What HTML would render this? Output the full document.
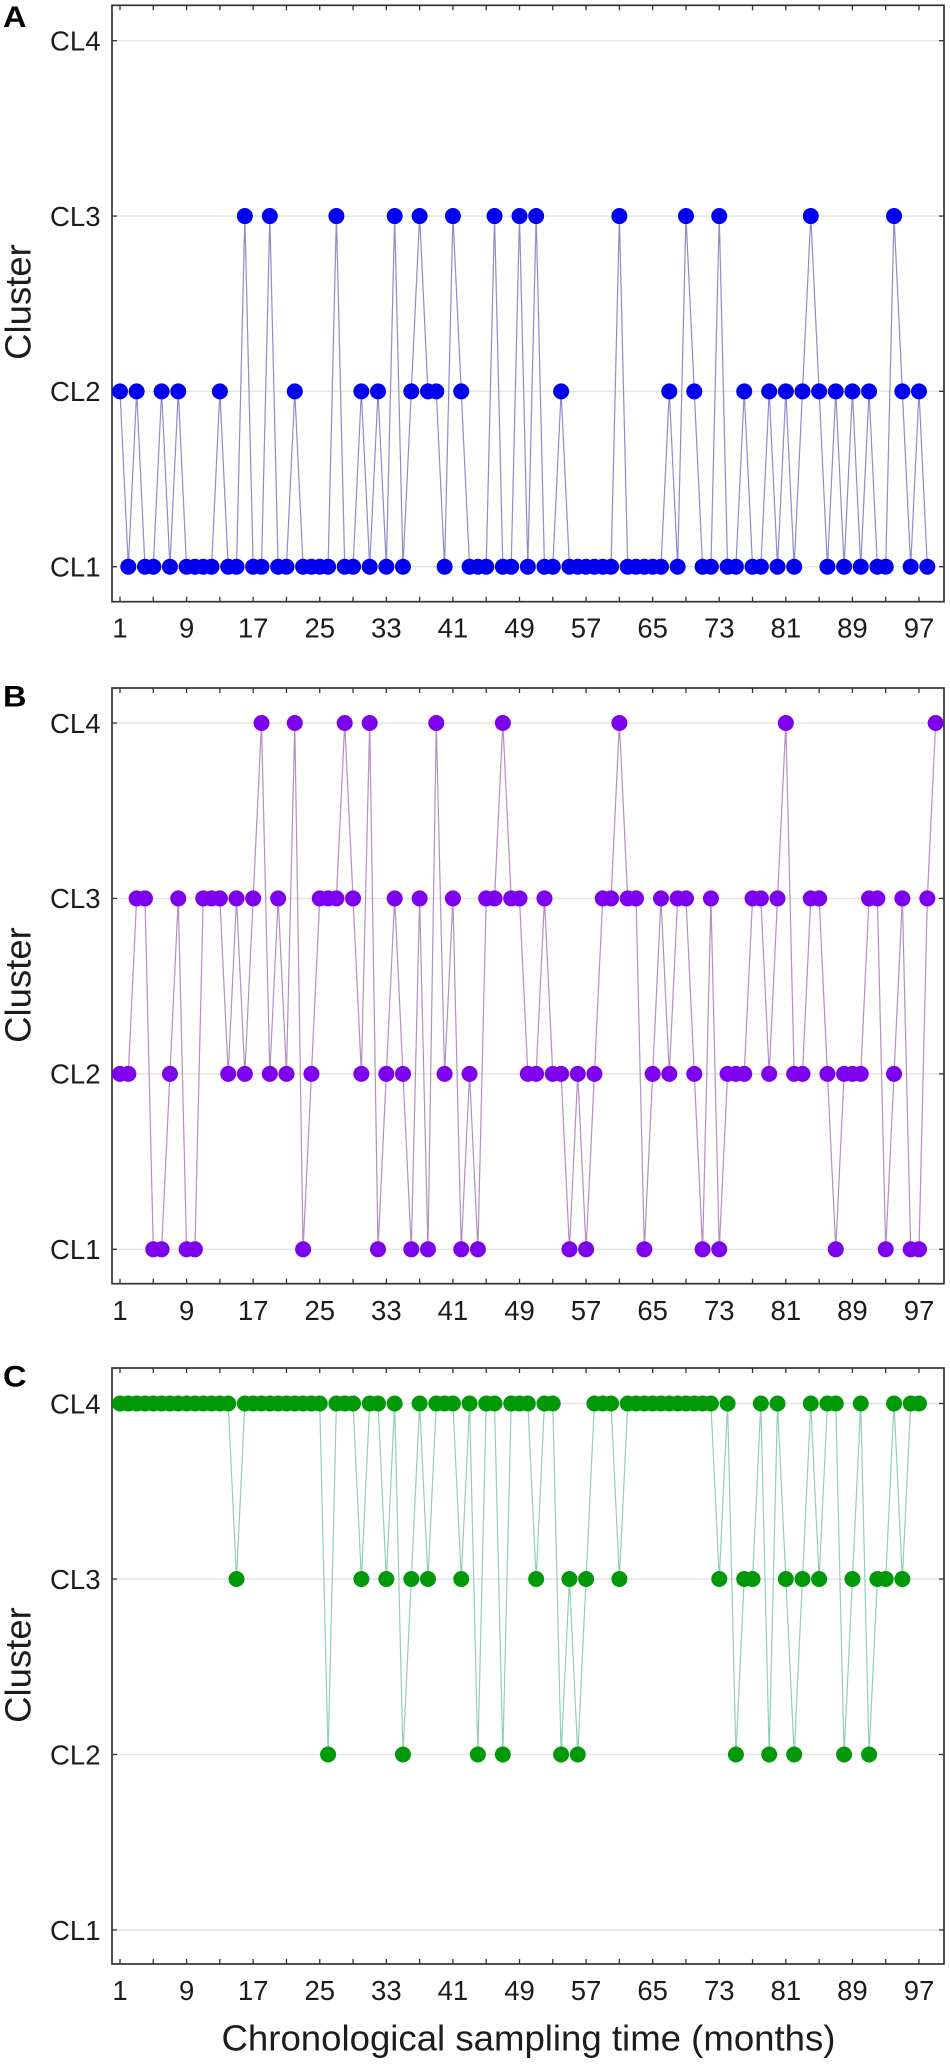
<!DOCTYPE html>
<html lang="en">
<head>
<meta charset="utf-8">
<title>Cluster membership over chronological sampling time</title>
<style>
html,body{margin:0;padding:0;background:#fff;}
svg{display:block;}
text{font-family:"Liberation Sans",Arial,sans-serif;fill:#1c1c1c;}
</style>
</head>
<body>
<svg id="figure" xmlns="http://www.w3.org/2000/svg" width="950" height="2064" viewBox="0 0 950 2064"></svg>
<script>
const clusterLabels = ["CL1","CL2","CL3","CL4"];
const xTickLabels = [1,9,17,25,33,41,49,57,65,73,81,89,97];
const xMinorTicks = [1,5,9,13,17,21,25,29,33,37,41,45,49,53,57,61,65,69,73,77,81,85,89,93,97];
const seriesA = [
2,1,2,1,1,2,1,2,1,1,
1,1,2,1,1,3,1,1,3,1,
1,2,1,1,1,1,3,1,1,2,
1,2,1,3,1,2,3,2,2,1,
3,2,1,1,1,3,1,1,3,1,
3,1,1,2,1,1,1,1,1,1,
3,1,1,1,1,1,2,1,3,2,
1,1,3,1,1,2,1,1,2,1,
2,1,2,3,2,1,2,1,2,1,
2,1,1,3,2,1,2,1];
const seriesB = [
2,2,3,3,1,1,2,3,1,1,
3,3,3,2,3,2,3,4,2,3,
2,4,1,2,3,3,3,4,3,2,
4,1,2,3,2,1,3,1,4,2,
3,1,2,1,3,3,4,3,3,2,
2,3,2,2,1,2,1,2,3,3,
4,3,3,1,2,3,2,3,3,2,
1,3,1,2,2,2,3,3,2,3,
4,2,2,3,3,2,1,2,2,2,
3,3,1,2,3,1,1,3,4];
const seriesC = [
4,4,4,4,4,4,4,4,4,4,
4,4,4,4,3,4,4,4,4,4,
4,4,4,4,4,2,4,4,4,3,
4,4,3,4,2,3,4,3,4,4,
4,3,4,2,4,4,2,4,4,4,
3,4,4,2,3,2,3,4,4,4,
3,4,4,4,4,4,4,4,4,4,
4,4,3,4,2,3,3,4,2,4,
3,2,3,4,3,4,4,2,3,4,
2,3,3,4,3,4,4];

const SVG_NS = "http://www.w3.org/2000/svg";
const figure = document.getElementById("figure");
const LEFT = 112, RIGHT = 944;
function xScale(month){ return 120 + (month - 1) * (919 - 120) / 96; }

function make(parent, tag, attrs){
  const node = document.createElementNS(SVG_NS, tag);
  for (const key in attrs) node.setAttribute(key, attrs[key]);
  parent.appendChild(node);
  return node;
}
function makeText(parent, str, x, y, size, anchor, rotate){
  const t = make(parent, "text", {
    "font-size": size,
    "text-anchor": anchor,
    transform: "translate(" + x + " " + y + ")" + (rotate ? " rotate(-90)" : "")
  });
  t.textContent = str;
  return t;
}

function drawPanel(cfg){
  const yScale = c => cfg.yCL1 + (c - 1) * (cfg.yCL4 - cfg.yCL1) / 3;
  const g = make(figure, "g", {});
  
  

  clusterLabels.forEach((lab, i) => {
    const y = yScale(i + 1);
    const grid = make(g, "line", {x1: LEFT, x2: RIGHT, y1: y, y2: y, stroke: "#e4e4e6", "stroke-width": 1.4});
    
    
    const tl = make(g, "line", {x1: LEFT, x2: LEFT + 5, y1: y, y2: y, stroke: "#333", "stroke-width": 1.3});
    
    
    const tr = make(g, "line", {x1: RIGHT - 5, x2: RIGHT, y1: y, y2: y, stroke: "#333", "stroke-width": 1.3});
    
    
    const label = makeText(g, lab, 100.5, y + 9.8, 27.5, "end", false);
    
    
  });

  xMinorTicks.forEach(m => {
    const x = xScale(m);
    const tb = make(g, "line", {x1: x, x2: x, y1: cfg.bottom - 5, y2: cfg.bottom, stroke: "#333", "stroke-width": 1.3});
    
    
    const tt = make(g, "line", {x1: x, x2: x, y1: cfg.top, y2: cfg.top + 5, stroke: "#333", "stroke-width": 1.3});
    
    
  });

  xTickLabels.forEach(m => {
    const label = makeText(g, String(m), xScale(m), cfg.xLabelY, 27.5, "middle", false);
    
    
  });

  const frame = make(g, "rect", {x: LEFT, y: cfg.top, width: RIGHT - LEFT, height: cfg.bottom - cfg.top, fill: "none", stroke: "#333", "stroke-width": 1.7});
  
  

  const line = make(g, "polyline", {
    points: cfg.values.map((c, i) => xScale(i + 1).toFixed(2) + "," + yScale(c).toFixed(2)).join(" "),
    fill: "none", stroke: cfg.lineColor, "stroke-width": 1.2, "stroke-linejoin": "round"
  });
  
  

  cfg.values.forEach((c, i) => {
    const pt = make(g, "circle", {cx: xScale(i + 1), cy: yScale(c), r: 8, fill: cfg.color});
    
    
  });

  const yTitle = makeText(g, "Cluster", 30.5, cfg.titleY, 36.5, "middle", true);
  
  

  const panelLetter = make(g, "text", {x: 3, y: cfg.letterY, "font-size": 30, "font-weight": "bold", textLength: 23.5, lengthAdjust: "spacingAndGlyphs"});
  panelLetter.textContent = cfg.letter;
  panelLetter.style.fill = "#000";
  
  
}

drawPanel({letter:"A", values:seriesA, color:"#0000ee", lineColor:"#8d8dc8", top:5.3, bottom:601.7, yCL4:40.7, yCL1:566.7, xLabelY:637.7, titleY:302, letterY:27});
drawPanel({letter:"B", values:seriesB, color:"#7d00ee", lineColor:"#b48fc0", top:688, bottom:1283.7, yCL4:723, yCL1:1249.3, xLabelY:1320, titleY:985, letterY:706.7});
drawPanel({letter:"C", values:seriesC, color:"#009a09", lineColor:"#93ceb8", top:1368, bottom:1964, yCL4:1403.5, yCL1:1930, xLabelY:2000, titleY:1665, letterY:1386.5});

const xTitle = make(figure, "text", {x: 221.5, y: 2050.7, "font-size": 36.2, textLength: 614, lengthAdjust: "spacingAndGlyphs"});
xTitle.textContent = "Chronological sampling time (months)";


</script>
</body>
</html>
